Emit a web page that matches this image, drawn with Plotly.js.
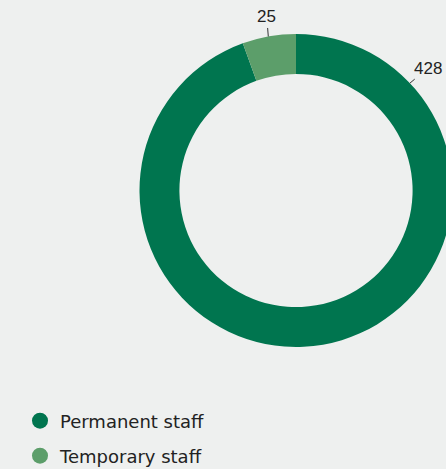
<!DOCTYPE html>
<html>
<head>
<meta charset="utf-8">
<script src="https://cdn.plot.ly/plotly-3.0.1.min.js"></script>
<style>
html,body{margin:0;padding:0;overflow:hidden;background:#eef0ef;}
#chart{width:470px;height:500px;}
</style>
</head>
<body>
<div id="chart"></div>
<script>
const categories = ["Permanent staff", "Temporary staff"];
const values = [428, 25];
const colors = ["#00754f", "#5c9e6a"];

// figure is a bit larger than the viewport; the viewport clips it
const W = 470, H = 500;
const cx = 296, cy = 190.5, R = 156.5;
// label anchor angles (degrees clockwise from 12 o'clock) and text offsets
const labelAngles = [46.7, -10.2];
const labelOffsets = [[18, -15], [-1.5, -19.5]];

const pie = {
  type: "pie",
  labels: categories,
  values: values,
  sort: false,
  direction: "clockwise",
  rotation: 0,
  hole: 0.745,
  marker: {colors: colors, line: {width: 0}},
  textinfo: "none",
  hoverinfo: "none",
  showlegend: false,
  domain: {x: [(cx - R) / W, (cx + R) / W], y: [1 - (cy + R) / H, 1 - (cy - R) / H]}
};

const legendTraces = categories.map((c, i) => ({
  type: "scatter",
  mode: "markers",
  x: [null], y: [null],
  name: c,
  marker: {symbol: "circle", size: 16, color: colors[i]},
  hoverinfo: "none",
  legend: i === 0 ? "legend" : "legend2"
}));

const annotations = values.map((v, i) => {
  const a = labelAngles[i] * Math.PI / 180;
  const px = cx + R * Math.sin(a);
  const py = cy - R * Math.cos(a);
  return {
    xref: "paper", yref: "paper",
    x: px / W, y: 1 - py / H,
    text: String(v),
    showarrow: true, arrowhead: 0, arrowwidth: 1, arrowcolor: "#333",
    ax: labelOffsets[i][0], ay: labelOffsets[i][1],
    standoff: 0,
    font: {family: "Liberation Sans, Arial, sans-serif", size: 17, color: "#222"}
  };
});

const legendFont = {family: "DejaVu Sans, sans-serif", size: 18, color: "#222"};
const layout = {
  width: W, height: H,
  margin: {l: 0, r: 0, t: 0, b: 0},
  paper_bgcolor: "#eef0ef",
  plot_bgcolor: "#eef0ef",
  xaxis: {visible: false},
  yaxis: {visible: false},
  annotations: annotations,
  legend: {x: 20 / W, y: 1 - 421 / H, xanchor: "left", yanchor: "middle", font: legendFont, bgcolor: "rgba(0,0,0,0)"},
  legend2: {x: 20 / W, y: 1 - 456 / H, xanchor: "left", yanchor: "middle", font: legendFont, bgcolor: "rgba(0,0,0,0)"},
  showlegend: true
};

Plotly.newPlot("chart", [pie].concat(legendTraces), layout, {displayModeBar: false, staticPlot: true});
</script>
</body>
</html>
